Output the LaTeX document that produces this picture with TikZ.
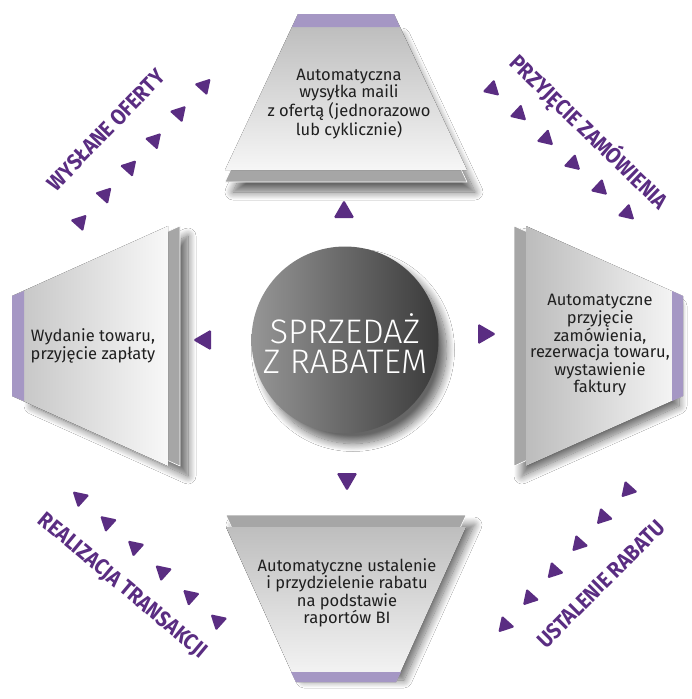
\documentclass[tikz,border=0pt]{standalone}
\usepackage{fontspec}
\setmainfont{Fira Sans}
\newfontfamily\lightfont{Fira Sans Light}
\usetikzlibrary{shadows.blur}
\definecolor{dpurple}{HTML}{5A2D82}
\definecolor{lav}{HTML}{A597C4}
\definecolor{backgray}{HTML}{A6A6A6}
\newcommand\arr[4]{\fill[dpurple, rounded corners=1.5pt, shift={(#1,#2)}, rotate=#3] (#4,0) -- (-0.5*#4, 0.866*#4) -- (-0.5*#4,-0.866*#4) -- cycle;}
\newcommand\lab[1]{\scalebox{0.9}[1]{#1}}
\tikzset{
  boxtext/.style={align=center, text=black!88, font=\fontsize{16.5}{15.5}\selectfont, inner sep=0pt},
  steplabel/.style={text=dpurple, font=\bfseries\fontsize{22}{22}\selectfont, inner sep=0pt},
  backlayer/.style={fill=backgray, draw=white, line width=0.6pt},
  shad/.style={blur shadow={shadow xshift=8pt, shadow yshift=-10pt, shadow blur steps=14, shadow blur radius=8pt, shadow opacity=60}},
}
\begin{document}
\begin{tikzpicture}[x=1pt,y=-1pt]
\useasboundingbox (0,0) rectangle (691,699);
\fill[white] (0,0) rectangle (691,699);

% ---------- top box ----------
\fill[backlayer, shad] (298,26) -- (394,26) -- (467,182) -- (225,182) -- cycle;
\fill[top color={rgb,255:red,185;green,185;blue,185}, bottom color={rgb,255:red,246;green,246;blue,246}]
  (298,14) -- (394,14) -- (467,170) -- (225,170) -- cycle;
\fill[lav] (298,14) -- (394,14) -- (400,27) -- (292,27) -- cycle;

% ---------- bottom box ----------
\fill[backlayer, shad] (226,515) -- (466,515) -- (396,670) -- (296,670) -- cycle;
\fill[top color={rgb,255:red,190;green,190;blue,190}, bottom color={rgb,255:red,246;green,246;blue,246}]
  (226,527) -- (466,527) -- (396,682) -- (296,682) -- cycle;
\fill[lav] (291,672) -- (401,672) -- (396,682) -- (296,682) -- cycle;

% ---------- left box ----------
\fill[backlayer, shad] (24,296) -- (180,226) -- (180,466) -- (24,396) -- cycle;
\fill[left color={rgb,255:red,196;green,196;blue,196}, right color={rgb,255:red,248;green,248;blue,248}]
  (12,296) -- (168,226) -- (168,466) -- (12,396) -- cycle;
\fill[lav] (12,296) -- (24,291) -- (24,401) -- (12,396) -- cycle;

% ---------- right box ----------
\fill[backlayer, shad] (514,226) -- (671,296) -- (671,396) -- (514,466) -- cycle;
\fill[left color={rgb,255:red,188;green,188;blue,188}, right color={rgb,255:red,248;green,248;blue,248}]
  (526,226) -- (683,296) -- (683,396) -- (526,466) -- cycle;
\fill[lav] (672,291) -- (683,296) -- (683,396) -- (672,401) -- cycle;

% ---------- centre ----------
\node[circle, minimum size=187pt, inner sep=0pt, shad,
  left color={rgb,255:red,150;green,150;blue,150}, right color={rgb,255:red,58;green,58;blue,58}] (hub) at (345,340) {};
\node[align=center, text=white, font=\lightfont\fontsize{34}{30}\selectfont, inner sep=0pt] (hubtext) at (345,344) {SPRZEDAŻ\\Z RABATEM};

% box texts
\node[boxtext] (ttop) at (349,104) {Automatyczna\\wysyłka maili\\z ofertą (jednorazowo\\lub cyklicznie)};
\node[boxtext] (tleft) at (93,346) {Wydanie towaru,\\przyjęcie zapłaty};
\node[boxtext] (tright) at (600,345) {Automatyczne\\przyjęcie\\zamówienia,\\rezerwacja towaru,\\wystawienie\\faktury};
\node[boxtext] (tbottom) at (347,593) {Automatyczne ustalenie\\i przydzielenie rabatu\\na podstawie\\raportów BI};

% central arrows
\arr{344}{212}{90}{12}
\arr{347}{479}{-90}{12}
\arr{205}{340}{180}{12}
\arr{484}{334}{0}{12}

% diagonal arrows
\foreach \i in {0,...,5}{
  \arr{80+24.8*\i}{222-27.2*\i}{48}{10}
  \arr{492+27*\i}{89+24.8*\i}{-43}{10}
  \arr{628-24.6*\i}{490+27*\i}{-132}{10}
  \arr{218-27.6*\i}{621-24.6*\i}{138}{10}
}

% labels
\node[steplabel, rotate=46] (l1) at (106,130) {\lab{WYSŁANE OFERTY}};
\node[steplabel, rotate=-44] (l2) at (589,132) {\lab{PRZYJĘCIE ZAMÓWIENIA}};
\node[steplabel, rotate=-40] (l3) at (122,586) {\lab{REALIZACJA TRANSAKCJI}};
\node[steplabel, rotate=45] (l4) at (601,584) {\lab{USTALENIE RABATU}};
\end{tikzpicture}
\end{document}
